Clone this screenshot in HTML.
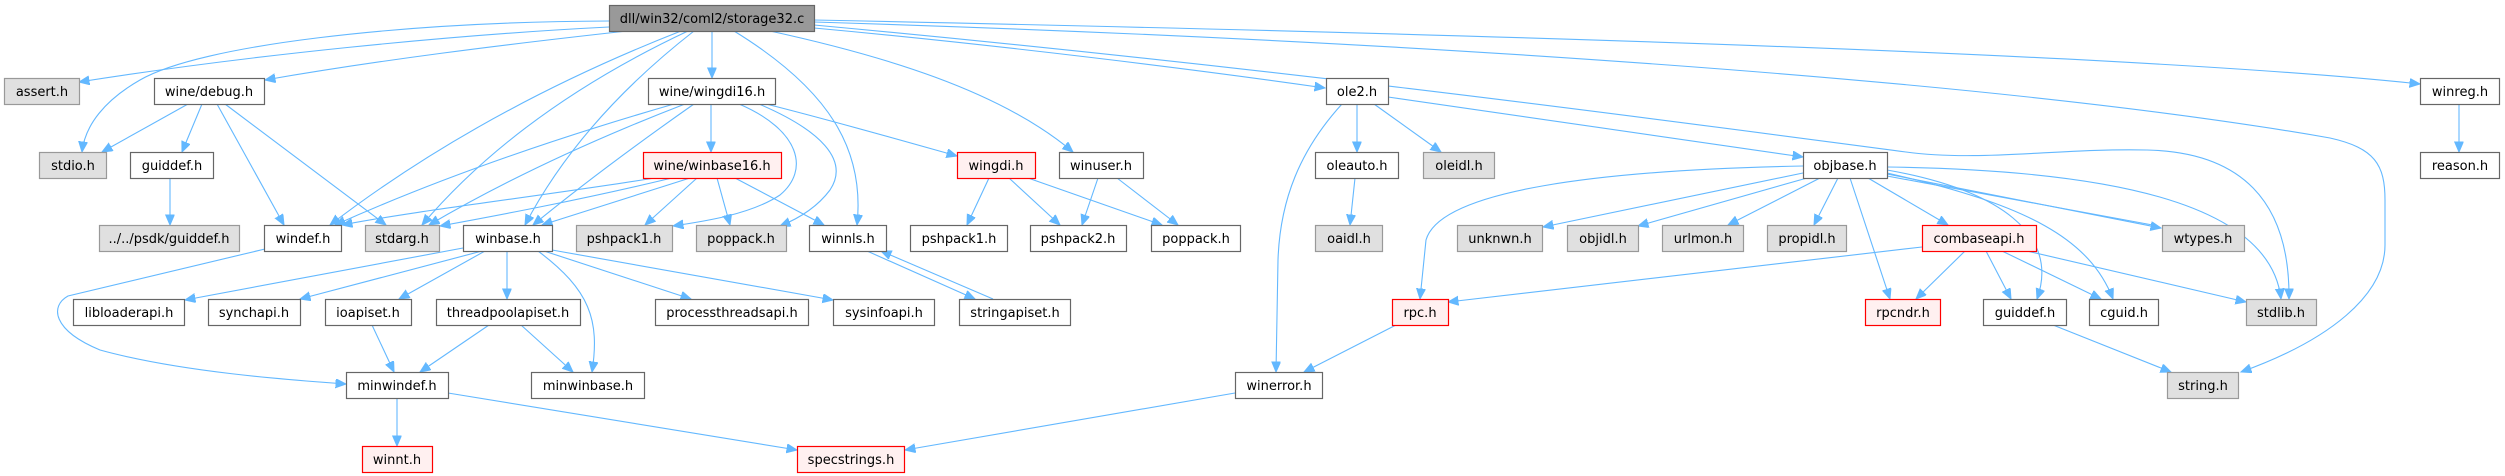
<!DOCTYPE html>
<html><head><meta charset="utf-8"><style>
html,body{margin:0;padding:0;background:#fff;}
svg{display:block;}
text{font-family:"DejaVu Sans","Liberation Sans",sans-serif;font-size:13px;fill:#000;text-anchor:middle;}
.w{fill:#fff;stroke:#666;stroke-width:1.2;}
.g{fill:#e0e0e0;stroke:#999;stroke-width:1.2;}
.r{fill:#fff0f0;stroke:#ff0000;stroke-width:1.2;}
.root{fill:#999;stroke:#666;stroke-width:1.2;}
.e path{fill:none;stroke:#63b8ff;stroke-width:1.1;marker-end:url(#a);}
.e path.nm{marker-end:none;}
</style></head><body>
<svg width="2505" height="476" viewBox="0 0 2505 476" xmlns="http://www.w3.org/2000/svg">
<defs><marker id="a" markerWidth="12" markerHeight="10" refX="10.5" refY="4.5" orient="auto" markerUnits="userSpaceOnUse"><path d="M0,0 L10.5,4.5 L0,9 z" fill="#63b8ff" stroke="#63b8ff"/></marker></defs>
<g class="e">
<path d="M609,27 C450,35 250,55 79,82"/>
<path d="M609,21 C400,22 200,45 140,80 C105,100 85,125 82,152"/>
<path d="M627,31 C500,45 380,60 265,80"/>
<path d="M681,31 Q480,110 330,225"/>
<path d="M688,31 Q520,110 422,225"/>
<path d="M694,31 Q580,120 525,225"/>
<path d="M712,31 L712,78"/>
<path d="M734,31 C830,90 865,150 857,225"/>
<path d="M770,31 C880,55 1000,90 1073,152"/>
<path d="M814,28 C1000,45 1200,70 1325,88"/>
<path d="M814,20 C1300,30 2100,50 2420,84"/>
<path d="M814,22 C1400,40 2000,80 2330,138 C2375,148 2385,165 2385,200 L2385,245 C2385,295 2330,340 2241,372"/>
<path d="M814,25 C1300,70 1700,125 1906,152 C1980,162 2060,148 2147,150 C2240,152 2290,200 2289,299"/>
<path d="M188,104 L102,152"/>
<path d="M202,104 L182,152"/>
<path d="M217,104 L284,225"/>
<path d="M225,104 L386,225"/>
<path d="M170,178 L170,225"/>
<path d="M674,104 Q480,160 335,225"/>
<path d="M685,104 Q540,160 429,225"/>
<path d="M694,104 Q600,170 533,225"/>
<path d="M711,104 L711,152"/>
<path d="M739,104 C800,130 810,170 780,195 C750,215 700,222 673,226"/>
<path d="M759,104 C820,130 850,160 830,190 C815,210 795,220 780,226"/>
<path d="M766,104 C830,120 900,140 957,156"/>
<path d="M661,177 C550,195 420,210 342,225"/>
<path d="M672,178 C580,200 500,215 440,226"/>
<path d="M690,178 L542,225"/>
<path d="M697,178 L645,225"/>
<path d="M717,178 L730,225"/>
<path d="M735,178 L824,225"/>
<path d="M265,249 L68,296 C50,306 52,330 100,350 C180,372 290,380 346,384"/>
<path d="M463,248 L185,300"/>
<path d="M482,251 L300,299"/>
<path d="M485,251 L399,299"/>
<path d="M507,251 L507,299"/>
<path d="M538,251 C590,290 600,320 592,372"/>
<path d="M544,251 L691,299"/>
<path d="M552,250 L833,300"/>
<path d="M372,325 L394,372"/>
<path d="M489,325 L420,372"/>
<path d="M521,325 L573,372"/>
<path d="M397,398 L397,446"/>
<path d="M448,393 L797,450"/>
<path d="M867,251 L975,299"/>
<path d="M993,299 L881,251"/>
<path d="M989,178 L967,225"/>
<path d="M1009,178 L1060,225"/>
<path d="M1028,178 L1162,225"/>
<path d="M1098,178 L1082,225"/>
<path d="M1117,178 L1178,225"/>
<path d="M1357,104 L1357,152"/>
<path d="M1374,104 L1441,152"/>
<path d="M1342,104 C1300,150 1280,200 1278,260 L1276,372"/>
<path d="M1388,97 L1803,157"/>
<path d="M1355,178 L1350,225"/>
<path d="M1803,166 C1600,170 1440,190 1426,240 L1420,299"/>
<path d="M1803,173 L1543,227"/>
<path d="M1807,178 L1638,226"/>
<path d="M1820,178 L1728,225"/>
<path d="M1838,178 L1814,225"/>
<path d="M1850,178 L1890,299"/>
<path d="M1868,178 L1948,225"/>
<path d="M1887,170 C2000,190 2060,235 2037,299"/>
<path d="M1887,173 C2030,205 2090,240 2113,299"/>
<path d="M1887,174 L2161,228"/>
<path class="nm" d="M1887,176 C1990,195 2080,212 2158,226"/>
<path d="M1887,167 C2100,170 2270,200 2281,299"/>
<path d="M1922,247 L1448,302"/>
<path d="M1965,251 L1916,299"/>
<path d="M1986,251 L2011,299"/>
<path d="M2002,251 L2101,299"/>
<path d="M2027,251 L2246,302"/>
<path d="M1396,325 L1304,372"/>
<path d="M1235,393 L905,450"/>
<path d="M2053,325 L2171,372"/>
<path d="M2459,104 L2459,152"/>
</g>
<g>
<rect class="root" x="609.5" y="5.5" width="205" height="26"/><text x="712" y="23">dll/win32/coml2/storage32.c</text>
<rect class="g" x="4.5" y="78.5" width="75" height="26"/><text x="42" y="96">assert.h</text>
<rect class="w" x="154.5" y="78.5" width="110" height="26"/><text x="209" y="96">wine/debug.h</text>
<rect class="w" x="648.5" y="78.5" width="127" height="26"/><text x="712" y="96">wine/wingdi16.h</text>
<rect class="w" x="1326.5" y="78.5" width="62" height="26"/><text x="1357" y="96">ole2.h</text>
<rect class="w" x="2420.5" y="78.5" width="79" height="26"/><text x="2460" y="96">winreg.h</text>
<rect class="g" x="39.5" y="152.5" width="67" height="26"/><text x="73" y="170">stdio.h</text>
<rect class="w" x="130.5" y="152.5" width="83" height="26"/><text x="172" y="170">guiddef.h</text>
<rect class="r" x="643.5" y="152.5" width="138" height="26"/><text x="712" y="170">wine/winbase16.h</text>
<rect class="r" x="957.5" y="152.5" width="78" height="26"/><text x="996" y="170">wingdi.h</text>
<rect class="w" x="1059.5" y="152.5" width="84" height="26"/><text x="1101" y="170">winuser.h</text>
<rect class="w" x="1315.5" y="152.5" width="83" height="26"/><text x="1357" y="170">oleauto.h</text>
<rect class="g" x="1423.5" y="152.5" width="71" height="26"/><text x="1459" y="170">oleidl.h</text>
<rect class="w" x="1803.5" y="152.5" width="84" height="26"/><text x="1845" y="170">objbase.h</text>
<rect class="w" x="2420.5" y="152.5" width="79" height="26"/><text x="2460" y="170">reason.h</text>
<rect class="g" x="99.5" y="225.5" width="140" height="26"/><text x="169" y="243">../../psdk/guiddef.h</text>
<rect class="w" x="264.5" y="225.5" width="77" height="26"/><text x="303" y="243">windef.h</text>
<rect class="g" x="365.5" y="225.5" width="74" height="26"/><text x="402" y="243">stdarg.h</text>
<rect class="w" x="463.5" y="225.5" width="89" height="26"/><text x="508" y="243">winbase.h</text>
<rect class="g" x="576.5" y="225.5" width="96" height="26"/><text x="624" y="243">pshpack1.h</text>
<rect class="g" x="696.5" y="225.5" width="90" height="26"/><text x="741" y="243">poppack.h</text>
<rect class="w" x="809.5" y="225.5" width="77" height="26"/><text x="848" y="243">winnls.h</text>
<rect class="w" x="910.5" y="225.5" width="97" height="26"/><text x="959" y="243">pshpack1.h</text>
<rect class="w" x="1030.5" y="225.5" width="96" height="26"/><text x="1078" y="243">pshpack2.h</text>
<rect class="w" x="1151.5" y="225.5" width="89" height="26"/><text x="1196" y="243">poppack.h</text>
<rect class="g" x="1315.5" y="225.5" width="67" height="26"/><text x="1349" y="243">oaidl.h</text>
<rect class="g" x="1457.5" y="225.5" width="85" height="26"/><text x="1500" y="243">unknwn.h</text>
<rect class="g" x="1567.5" y="225.5" width="71" height="26"/><text x="1603" y="243">objidl.h</text>
<rect class="g" x="1662.5" y="225.5" width="81" height="26"/><text x="1703" y="243">urlmon.h</text>
<rect class="g" x="1767.5" y="225.5" width="79" height="26"/><text x="1807" y="243">propidl.h</text>
<rect class="r" x="1922.5" y="225.5" width="114" height="26"/><text x="1979" y="243">combaseapi.h</text>
<rect class="g" x="2162.5" y="225.5" width="82" height="26"/><text x="2203" y="243">wtypes.h</text>
<rect class="w" x="73.5" y="299.5" width="111" height="26"/><text x="129" y="317">libloaderapi.h</text>
<rect class="w" x="208.5" y="299.5" width="92" height="26"/><text x="254" y="317">synchapi.h</text>
<rect class="w" x="325.5" y="299.5" width="86" height="26"/><text x="368" y="317">ioapiset.h</text>
<rect class="w" x="436.5" y="299.5" width="144" height="26"/><text x="508" y="317">threadpoolapiset.h</text>
<rect class="w" x="655.5" y="299.5" width="153" height="26"/><text x="732" y="317">processthreadsapi.h</text>
<rect class="w" x="833.5" y="299.5" width="101" height="26"/><text x="884" y="317">sysinfoapi.h</text>
<rect class="w" x="959.5" y="299.5" width="111" height="26"/><text x="1015" y="317">stringapiset.h</text>
<rect class="r" x="1392.5" y="299.5" width="56" height="26"/><text x="1420" y="317">rpc.h</text>
<rect class="r" x="1865.5" y="299.5" width="75" height="26"/><text x="1903" y="317">rpcndr.h</text>
<rect class="w" x="1983.5" y="299.5" width="83" height="26"/><text x="2025" y="317">guiddef.h</text>
<rect class="w" x="2089.5" y="299.5" width="69" height="26"/><text x="2124" y="317">cguid.h</text>
<rect class="g" x="2246.5" y="299.5" width="70" height="26"/><text x="2281" y="317">stdlib.h</text>
<rect class="w" x="346.5" y="372.5" width="102" height="26"/><text x="397" y="390">minwindef.h</text>
<rect class="w" x="531.5" y="372.5" width="113" height="26"/><text x="588" y="390">minwinbase.h</text>
<rect class="w" x="1235.5" y="372.5" width="87" height="26"/><text x="1279" y="390">winerror.h</text>
<rect class="g" x="2167.5" y="372.5" width="71" height="26"/><text x="2203" y="390">string.h</text>
<rect class="r" x="362.5" y="446.5" width="70" height="26"/><text x="397" y="464">winnt.h</text>
<rect class="r" x="797.5" y="446.5" width="107" height="26"/><text x="851" y="464">specstrings.h</text>
</g>
</svg>
</body></html>
